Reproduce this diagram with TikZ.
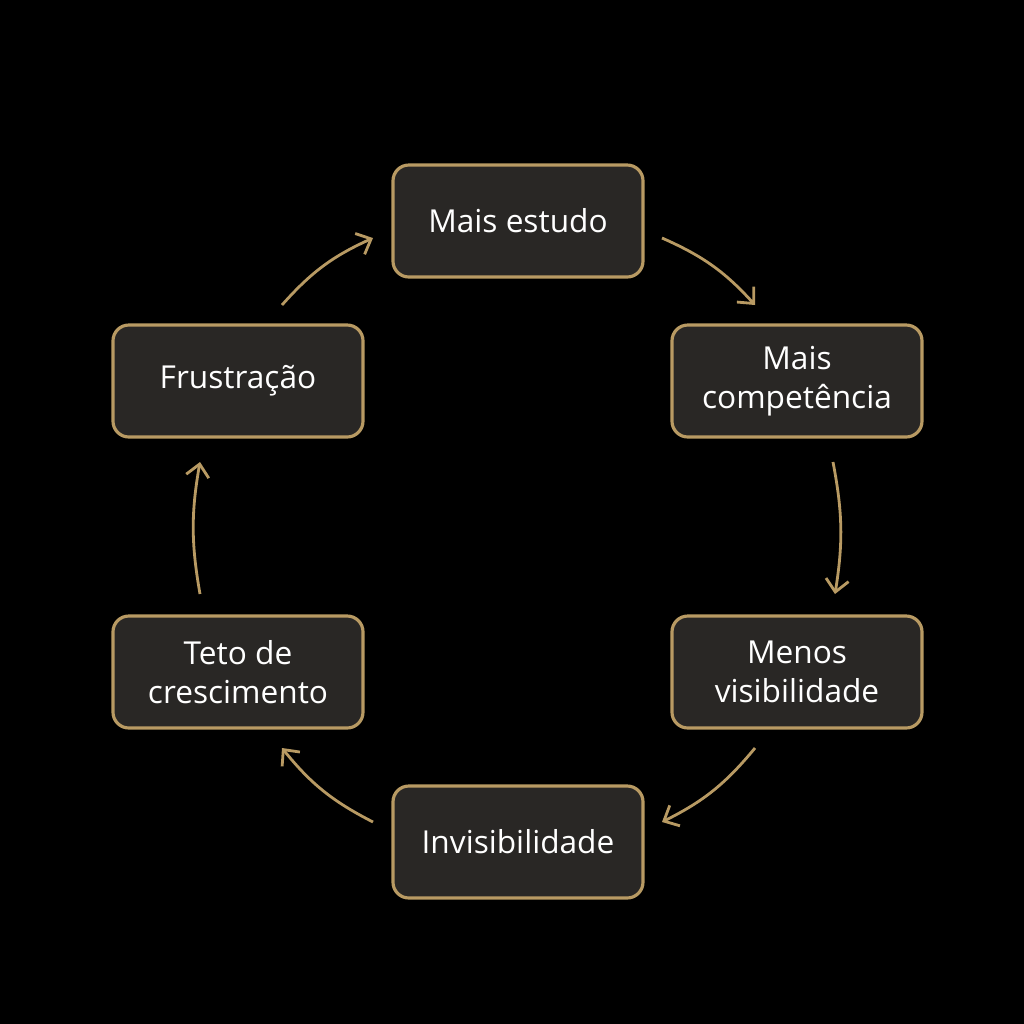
\documentclass[tikz,border=0pt]{standalone}
\usepackage{fontspec}
\setmainfont{Open Sans}
\usetikzlibrary{arrows.meta}
\definecolor{gold}{HTML}{B89A63}
\definecolor{boxfill}{HTML}{292725}
\begin{document}
\begin{tikzpicture}[
    box/.style={draw=gold, fill=boxfill, line width=1.8pt, rounded corners=9pt,
        minimum width=5.0cm, minimum height=2.24cm, align=center, text=white,
        font=\fontsize{18}{22}\selectfont},
    flow/.style={draw=gold, line width=1.6pt, -{Straight Barb[length=7pt,width=13pt]}}
]
    \useasboundingbox[fill=black] (0,0) rectangle (20.48,-20.48);

    \node[box] (est) at (10.36,-4.42) {Mais estudo};
    \node[box] (comp) at (15.94,-7.62) {Mais\\competência};
    \node[box] (vis) at (15.94,-13.44) {Menos\\visibilidade};
    \node[box] (inv) at (10.36,-16.84) {Invisibilidade};
    \node[box] (teto) at (4.76,-13.44) {Teto de\\crescimento};
    \node[box] (frus) at (4.76,-7.62) {Frustração};

    % free ends of the connectors
    \coordinate (a1) at (13.24,-4.76); \coordinate (b1) at (15.10,-6.10);
    \coordinate (a2) at (16.66,-9.24); \coordinate (b2) at (16.70,-11.88);
    \coordinate (a3) at (15.10,-14.96); \coordinate (b3) at (13.24,-16.44);
    \coordinate (a4) at (7.46,-16.44);  \coordinate (b4) at (5.64,-14.96);
    \coordinate (a5) at (4.00,-11.88);  \coordinate (b5) at (4.00,-9.24);
    \coordinate (a6) at (5.64,-6.10);   \coordinate (b6) at (7.46,-4.76);

    \draw[flow] (a1) to[bend left=12] (b1);
    \draw[flow] (a2) to[bend left=10] (b2);
    \draw[flow] (a3) to[bend left=12] (b3);
    \draw[flow] (a4) to[bend left=12] (b4);
    \draw[flow] (a5) to[bend left=10] (b5);
    \draw[flow] (a6) to[bend left=12] (b6);
\end{tikzpicture}
\end{document}
